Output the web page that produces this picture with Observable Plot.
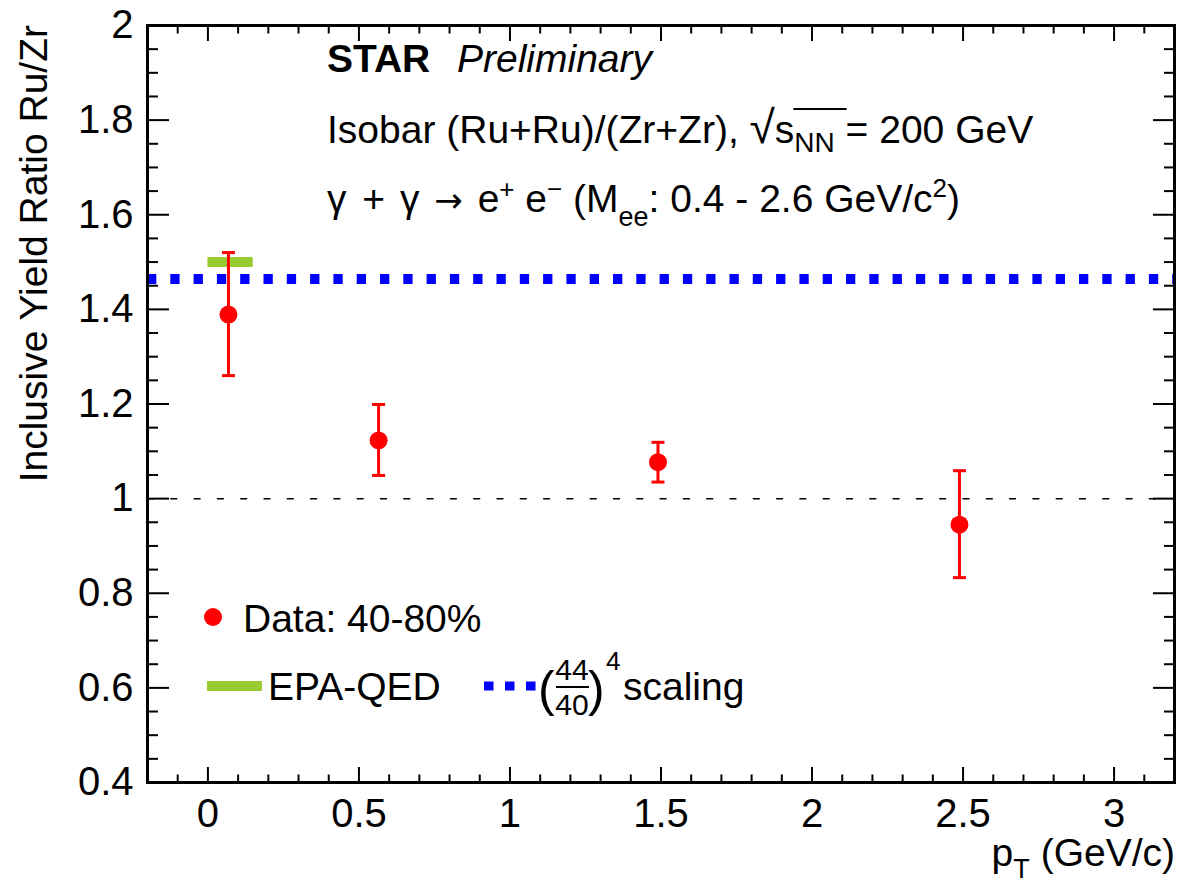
<!DOCTYPE html>
<html><head><meta charset="utf-8">
<script src="https://cdn.jsdelivr.net/npm/d3@7"></script>
<script src="https://cdn.jsdelivr.net/npm/@observablehq/plot@0.6"></script>
<style>body{margin:0;background:#fff;} #chart{position:relative;width:1197px;height:886px;}</style>
</head><body><div id="chart"></div>
<script>
// ---- data ----
const pt = [0.068, 0.565, 1.490, 2.488];
const ratio = [1.389, 1.123, 1.077, 0.945];
const errLow = [1.260, 1.049, 1.035, 0.833];
const errHigh = [1.520, 1.199, 1.119, 1.059];
const epaPt = [0, 0.15];
const epaRatio = [1.5];
const scalingRatio = [1.4641]; // (44/40)^4
const unityLine = [1];
const xMajor = [0, 0.5, 1, 1.5, 2, 2.5, 3];
const xTickLabels = ["0", "0.5", "1", "1.5", "2", "2.5", "3"];
const yMajor = [0.4, 0.6, 0.8, 1, 1.2, 1.4, 1.6, 1.8, 2];
const yTickLabels = ["0.4", "0.6", "0.8", "1", "1.2", "1.4", "1.6", "1.8", "2"];
const xMinor = d3.range(-1, 32).map(i => i / 10).filter(v => !xMajor.some(m => Math.abs(m - v) < 1e-9));
const yMinor = d3.range(9, 40).map(i => i / 20).filter(v => !yMajor.some(m => Math.abs(m - v) < 1e-9));

const FONT = "'Liberation Sans', Arial, Helvetica, sans-serif";
const data = pt.map((x, i) => ({x, y: ratio[i], lo: errLow[i], hi: errHigh[i]}));
const epa = epaRatio.map(y => ({y, x1: epaPt[0], x2: epaPt[1]}));
const capSymbol = {draw(ctx, size) { const r = Math.sqrt(size / Math.PI); ctx.moveTo(-r, 0); ctx.lineTo(r, 0); }};
const blank = () => "";

const svg = Plot.plot({
  width: 1197, height: 886,
  marginLeft: 147, marginRight: 23, marginTop: 25, marginBottom: 104,
  x: {domain: [-0.2, 3.2]},
  y: {domain: [0.4, 2]},
  style: {fontFamily: FONT, fontSize: "40px", color: "black", background: "white", overflow: "visible"},
  marks: [
    Plot.ruleY(unityLine, {stroke: "black", strokeWidth: 1.5, strokeDasharray: "7,16.3"}),
    Plot.ruleY(scalingRatio, {stroke: "#0000ff", strokeWidth: 10, strokeDasharray: "9.3,14"}),
    Plot.ruleY(epa, {y: "y", x1: "x1", x2: "x2", stroke: "#99cc33", strokeWidth: 10}),
    Plot.ruleX(data, {x: "x", y1: "lo", y2: "hi", stroke: "red", strokeWidth: 3}),
    Plot.dot(data, {x: "x", y: "lo", symbol: capSymbol, r: 6.5, stroke: "red", strokeWidth: 3}),
    Plot.dot(data, {x: "x", y: "hi", symbol: capSymbol, r: 6.5, stroke: "red", strokeWidth: 3}),
    Plot.dot(data, {x: "x", y: "y", r: 9, fill: "red", stroke: "none"}),
    // tick labels
    Plot.axisY(yMajor, {anchor: "left", tickSize: 0, tickPadding: 14, fontSize: 40, label: null,
      tickFormat: d => yTickLabels[yMajor.indexOf(d)]}),
    Plot.axisX(xMajor, {anchor: "bottom", tickSize: 0, tickPadding: 16, fontSize: 40, label: null,
      tickFormat: d => xTickLabels[xMajor.indexOf(d)]}),
    // inward ticks
    Plot.axisY(yMajor, {anchor: "left", tickSize: -22, strokeWidth: 2, tickFormat: blank, label: null}),
    Plot.axisY(yMinor, {anchor: "left", tickSize: -11, strokeWidth: 2, tickFormat: blank, label: null}),
    Plot.axisY(yMajor, {anchor: "right", tickSize: -22, strokeWidth: 2, tickFormat: blank, label: null}),
    Plot.axisY(yMinor, {anchor: "right", tickSize: -11, strokeWidth: 2, tickFormat: blank, label: null}),
    Plot.axisX(xMajor, {anchor: "bottom", tickSize: -15, strokeWidth: 2, tickFormat: blank, label: null}),
    Plot.axisX(xMinor, {anchor: "bottom", tickSize: -7.5, strokeWidth: 2, tickFormat: blank, label: null}),
    Plot.axisX(xMajor, {anchor: "top", tickSize: -15, strokeWidth: 2, tickFormat: blank, label: null}),
    Plot.axisX(xMinor, {anchor: "top", tickSize: -7.5, strokeWidth: 2, tickFormat: blank, label: null}),
    Plot.frame({stroke: "black", strokeWidth: 3})
  ]
});
document.getElementById("chart").appendChild(svg);

// ---- annotations ----
const g = d3.select(svg).append("g").attr("font-family", FONT).attr("fill", "black").attr("text-anchor", "start");

// axis titles
g.append("text").attr("transform", "translate(47,25) rotate(-90)").attr("text-anchor", "end")
  .attr("font-size", 39).text("Inclusive Yield Ratio Ru/Zr");
const xt = g.append("text").attr("x", 1175).attr("y", 866).attr("text-anchor", "end").attr("font-size", 39);
xt.append("tspan").text("p");
xt.append("tspan").attr("dy", 12).attr("font-size", 27).text("T");
xt.append("tspan").attr("dy", -12).text(" (GeV/c)");

// STAR Preliminary
const t1 = g.append("text").attr("x", 327).attr("y", 72).attr("font-size", 39);
t1.append("tspan").attr("font-weight", "bold").text("STAR");
t1.append("tspan").attr("x", 457).attr("font-style", "italic").text("Preliminary");

// Isobar line
const t2 = g.append("text").attr("x", 327).attr("y", 143).attr("font-size", 39);
t2.append("tspan").text("Isobar (Ru+Ru)/(Zr+Zr), ");
t2.append("tspan").attr("font-size", 46).text("\u221A");
t2.append("tspan").text("s");
t2.append("tspan").attr("dy", 9).attr("font-size", 28).text("NN");
t2.append("tspan").attr("dy", -9).text(" = 200 GeV");
{
  const n = t2.node();
  const s0 = n.getEndPositionOfChar(25);
  const s1 = n.getEndPositionOfChar(28);
  g.append("line").attr("x1", s0.x - 1).attr("x2", s1.x + 1).attr("y1", 109).attr("y2", 109)
    .attr("stroke", "black").attr("stroke-width", 2);
}

// gamma line
const t3 = g.append("text").attr("x", 327).attr("y", 212).attr("font-size", 39).style("white-space", "pre");
t3.append("tspan").text("\u03B3");
t3.append("tspan").attr("dx", 5).text(" + ");
t3.append("tspan").attr("dx", 4).text("\u03B3 ");
t3.append("tspan").attr("font-family", "'DejaVu Sans', sans-serif").attr("font-size", 34).attr("dx", 4).text("\u2192");
t3.append("tspan").attr("dx", 4).text(" e");
t3.append("tspan").attr("dy", -14).attr("font-size", 26).text("+");
t3.append("tspan").attr("dy", 14).text(" e");
t3.append("tspan").attr("dy", -14).attr("font-size", 26).text("\u2212");
t3.append("tspan").attr("dy", 14).text(" (M");
t3.append("tspan").attr("dy", 14).attr("font-size", 27).text("ee");
t3.append("tspan").attr("dy", -14).text(": 0.4 - 2.6 GeV/c");
t3.append("tspan").attr("dy", -15).attr("font-size", 26).text("2");
t3.append("tspan").attr("dy", 15).text(")");

// legend
g.append("circle").attr("cx", 213).attr("cy", 617).attr("r", 9).attr("fill", "red");
g.append("text").attr("x", 243).attr("y", 632).attr("font-size", 39).text("Data: 40-80%");
g.append("rect").attr("x", 207).attr("y", 681).attr("width", 55).attr("height", 10).attr("fill", "#99cc33");
g.append("text").attr("x", 268).attr("y", 700).attr("font-size", 39).text("EPA-QED");
[484, 505, 526].forEach(x => g.append("rect").attr("x", x).attr("y", 681.5).attr("width", 9.5).attr("height", 9).attr("fill", "#0000ff"));
g.append("text").attr("x", 538).attr("y", 706).attr("font-size", 50).text("(");
g.append("text").attr("x", 572).attr("y", 680).attr("text-anchor", "middle").attr("font-size", 30).text("44");
g.append("line").attr("x1", 556).attr("x2", 589).attr("y1", 687).attr("y2", 687).attr("stroke", "black").attr("stroke-width", 2);
g.append("text").attr("x", 572).attr("y", 715).attr("text-anchor", "middle").attr("font-size", 30).text("40");
g.append("text").attr("x", 588).attr("y", 706).attr("font-size", 50).text(")");
g.append("text").attr("x", 606).attr("y", 670).attr("font-size", 26).text("4");
g.append("text").attr("x", 623).attr("y", 700).attr("font-size", 39).text("scaling");
</script></body></html>
